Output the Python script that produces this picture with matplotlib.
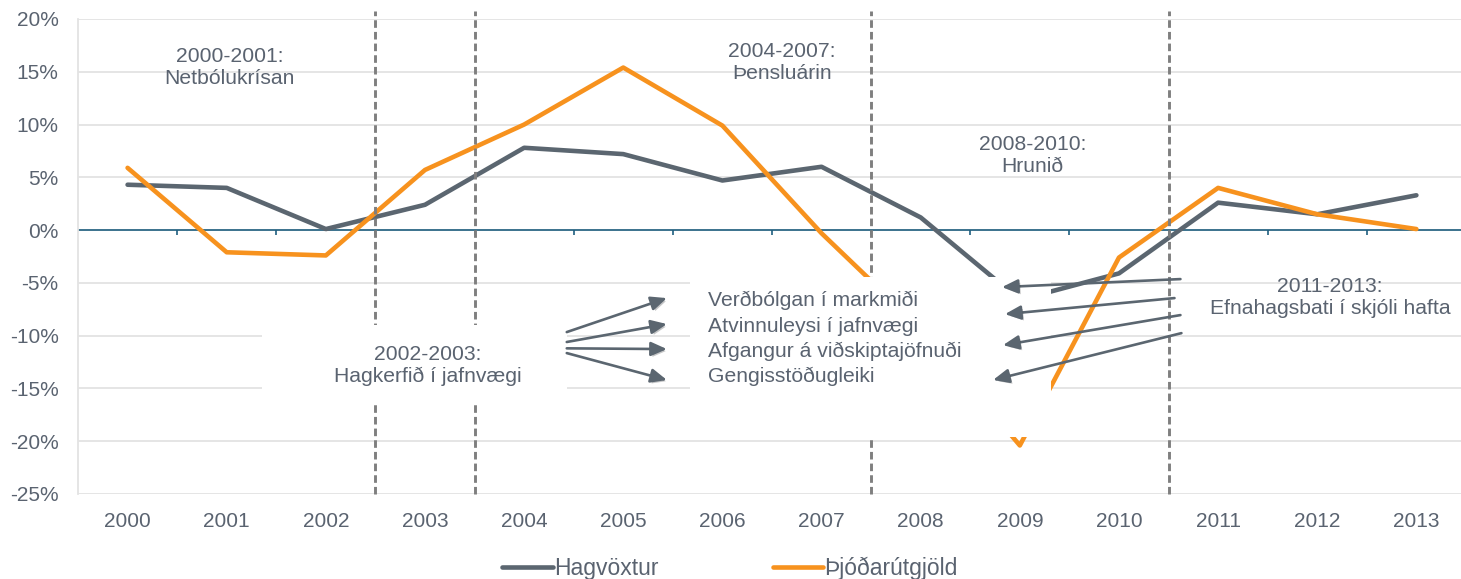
import matplotlib.pyplot as plt
import matplotlib.patches as mpatches
import matplotlib.patheffects as pe

plt.rcParams['font.family'] = ['Liberation Sans', 'DejaVu Sans']

years = ['2000', '2001', '2002', '2003', '2004', '2005', '2006',
         '2007', '2008', '2009', '2010', '2011', '2012', '2013']
hagvoxtur = [4.3, 4.0, 0.1, 2.4, 7.8, 7.2, 4.7, 6.0, 1.2, -6.6, -4.1, 2.6, 1.5, 3.3]
thjodarutgjold = [5.9, -2.1, -2.4, 5.7, 10.0, 15.4, 9.9, -0.3, -9.3, -20.4, -2.6, 4.0, 1.5, 0.1]

periods = [2.5, 3.5, 7.5, 10.5]
period_labels = [
    (1.03, 15.4, '2000-2001:\nNetbólukrísan'),
    (6.6, 15.9, '2004-2007:\nÞensluárin'),
    (9.13, 7.1, '2008-2010:\nHrunið'),
    (12.13, -6.35, '2011-2013:\nEfnahagsbati í skjóli hafta'),
    (3.03, -12.8, '2002-2003:\nHagkerfið í jafnvægi'),
]
goals = ['Verðbólgan í markmiði', 'Atvinnuleysi í jafnvægi',
         'Afgangur á viðskiptajöfnuði', 'Gengisstöðugleiki']
goal_y = [-6.63, -9.1, -11.5, -13.9]

# arrows: (start x, start y, end x, end y)
left_arrows = [(4.43, -9.66, 5.44, -6.44), (4.43, -10.6, 5.44, -8.9),
               (4.43, -11.2, 5.44, -11.27), (4.43, -11.65, 5.44, -14.2)]
right_arrows = [(10.62, -4.64, 8.82, -5.4), (10.56, -6.44, 8.85, -7.96),
                (10.62, -8.05, 8.83, -10.9), (10.63, -9.76, 8.73, -14.2)]

GRAY = '#5b6670'
ORANGE = '#f7921e'
TXT = '#5a6370'
FS = 15.2

fig = plt.figure(figsize=(14.61, 5.79), dpi=100)
ax = fig.add_axes([78 / 1461, 1 - 494 / 579, 1 - 78 / 1461, 475 / 579])

x = list(range(len(years)))
ax.plot(x, hagvoxtur, color=GRAY, lw=3.3, solid_capstyle='round', solid_joinstyle='round',
        zorder=3, label='Hagvöxtur')
ax.plot(x, thjodarutgjold, color=ORANGE, lw=3.3, solid_capstyle='round', solid_joinstyle='round',
        zorder=3, label='Þjóðarútgjöld')

ax.set_xlim(-0.5, 13.45)
ax.set_ylim(-25, 20)
ax.set_yticks(range(-25, 21, 5))
ax.set_yticklabels([f'{v}%' for v in range(-25, 21, 5)])
ax.set_xticks(x)
ax.set_xticklabels(years)
ax.tick_params(axis='both', length=0, labelsize=15, labelcolor=TXT)
ax.tick_params(axis='x', pad=13)
ax.tick_params(axis='y', pad=14)
ax.grid(axis='y', color='#e3e3e3', lw=1.3, zorder=0)
ax.set_axisbelow(True)
for s in ['top', 'right', 'bottom']:
    ax.spines[s].set_visible(False)
ax.spines['left'].set_color('#e3e3e3')
ax.spines['left'].set_linewidth(1.3)

# zero line with small ticks between categories
ax.axhline(0, color='#1f5f80', lw=1.2, zorder=2)
ax.vlines([k + 0.5 for k in range(13)], -0.5, 0, color='#1f5f80', lw=1.2, zorder=2)

ax.vlines(periods, -25, 20.8, colors='#7f7f7f', lw=2.1, linestyles=(0, (2.6, 1.4)),
          zorder=4, clip_on=False)

# white boxes covering parts of the chart
ax.add_patch(mpatches.Rectangle((1.36, -16.3), 4.43 - 1.36, 7.3, facecolor='white',
                                edgecolor='none', zorder=5))
ax.add_patch(mpatches.Rectangle((5.67, -19.6), 9.31 - 5.67, 15.15, facecolor='white',
                                edgecolor='none', zorder=5))

for px, py, t in period_labels:
    ax.text(px, py, t, ha='center', va='center', fontsize=FS, color=TXT,
            linespacing=1.2, zorder=6)
for t, gy in zip(goals, goal_y):
    ax.text(5.85, gy, t, ha='left', va='center', fontsize=FS, color=TXT, zorder=6)

shadow = [pe.SimplePatchShadow(offset=(1.5, -1.5), alpha=0.25), pe.Normal()]
for x0, y0, x1, y1 in left_arrows + right_arrows:
    ax.annotate('', xy=(x1, y1), xytext=(x0, y0),
                arrowprops=dict(arrowstyle='-|>,head_length=0.95,head_width=0.42',
                                color=GRAY, lw=1.9, shrinkA=0, shrinkB=0,
                                path_effects=shadow),
                zorder=7)

fig.legend(loc='center', bbox_to_anchor=(730 / 1461, 11 / 579), ncol=2, frameon=False,
           fontsize=16.5, labelcolor=TXT, handlelength=2.2, handletextpad=0.05,
           columnspacing=5.0)

fig.savefig('out.png', dpi=100)
